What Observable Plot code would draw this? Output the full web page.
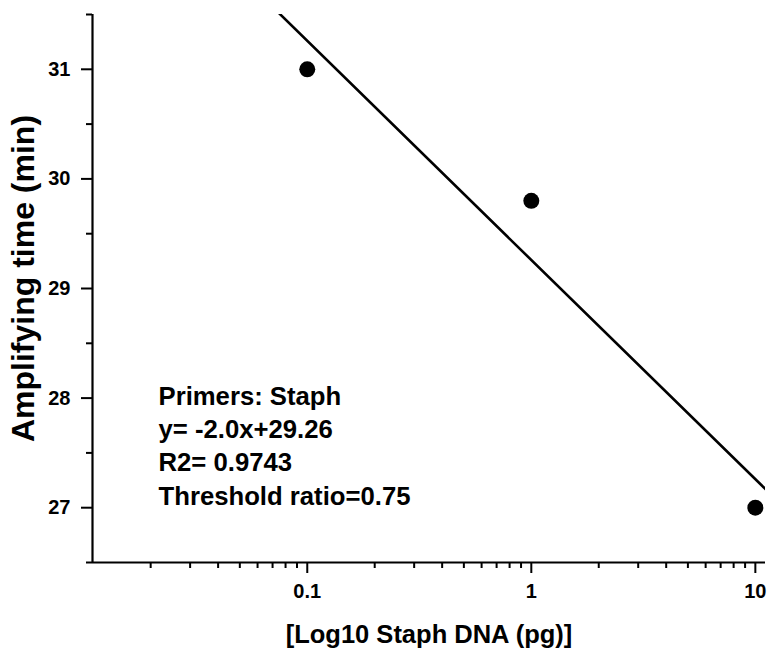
<!DOCTYPE html>
<html>
<head>
<meta charset="utf-8">
<script src="https://cdn.jsdelivr.net/npm/d3@7"></script>
<script src="https://cdn.jsdelivr.net/npm/@observablehq/plot@0.6"></script>
<style>
  html, body { margin: 0; padding: 0; background: #fff; }
  #chart svg { display: block; }
</style>
</head>
<body>
<div id="chart"></div>
<script>
// Data
const dnaAmounts = [0.1, 1, 10];           // pg
const ampTimes = [31.0, 29.8, 27.0];       // min
const fitSlope = -2.0;
const fitIntercept = 29.26;
const annotationLines = ["Primers: Staph", "y= -2.0x+29.26", "R2= 0.9743", "Threshold ratio=0.75"];

// Axes
const xDomain = [0.011, 11.1];
const yDomain = [26.5, 31.5];
const xMajorTicks = [0.1, 1, 10];
const xTickLabels = ["0.1", "1", "10"];
const xMinorTicks = [0.02, 0.03, 0.04, 0.05, 0.06, 0.07, 0.08, 0.09,
                     0.2, 0.3, 0.4, 0.5, 0.6, 0.7, 0.8, 0.9,
                     2, 3, 4, 5, 6, 7, 8, 9];
const yMajorTicks = [27, 28, 29, 30, 31];
const yTickLabels = ["27", "28", "29", "30", "31"];
const yMinorTicks = [26.5, 27.5, 28.5, 29.5, 30.5, 31.5];
const xTitle = "[Log10 Staph DNA (pg)]";
const yTitle = "Amplifying time (min)";

const points = dnaAmounts.map((x, i) => ({x, y: ampTimes[i]}));
const fitLine = xDomain.map(x => ({x, y: fitSlope * Math.log10(x) + fitIntercept}));
const xLabelData = xMajorTicks.map((v, i) => ({v, label: xTickLabels[i]}));
const yLabelData = yMajorTicks.map((v, i) => ({v, label: yTickLabels[i]}));

const font = "'Liberation Sans', Arial, sans-serif";

const chart = Plot.plot({
  width: 767,
  height: 650,
  marginLeft: 92,
  marginRight: 2,
  marginTop: 14,
  marginBottom: 88,
  style: {fontFamily: font, fontWeight: "bold", fontSize: "20px", color: "#000", background: "#fff"},
  x: {type: "log", domain: xDomain},
  y: {domain: yDomain},
  marks: [
    Plot.axisX({ticks: xMinorTicks, tickSize: 6, tickFormat: () => "", strokeWidth: 2, label: null}),
    Plot.axisX({ticks: xMajorTicks, tickSize: 11, tickFormat: () => "", strokeWidth: 2, label: null}),
    Plot.axisY({ticks: yMinorTicks, tickSize: 6, tickFormat: () => "", strokeWidth: 2, label: null}),
    Plot.axisY({ticks: yMajorTicks, tickSize: 11, tickFormat: () => "", strokeWidth: 2, label: null}),
    Plot.text(xLabelData, {
      x: "v", text: "label", frameAnchor: "bottom", textAnchor: "middle", lineAnchor: "top",
      dy: 21, fontSize: 20, fontWeight: "bold", fill: "#000"
    }),
    Plot.text(yLabelData, {
      y: "v", text: "label", frameAnchor: "left", textAnchor: "end", lineAnchor: "middle",
      dx: -22, fontSize: 20, fontWeight: "bold", fill: "#000"
    }),
    Plot.ruleY([yDomain[0]], {stroke: "#000", strokeWidth: 2.2}),
    Plot.ruleX([xDomain[0]], {stroke: "#000", strokeWidth: 2.2}),
    Plot.line(fitLine, {x: "x", y: "y", stroke: "#000", strokeWidth: 2.6, clip: true}),
    Plot.dot(points, {x: "x", y: "y", r: 8, fill: "#000", stroke: null}),
    Plot.text([annotationLines.join("\n")], {
      frameAnchor: "bottom-left", textAnchor: "start", lineAnchor: "bottom",
      dx: 66, dy: -58, fontSize: 25.7, fontWeight: "bold", lineHeight: 1.29, fill: "#000"
    }),
    Plot.text([xTitle], {
      frameAnchor: "bottom", textAnchor: "middle", lineAnchor: "bottom", dy: 80,
      fontSize: 25.5, fontWeight: "bold", fill: "#000"
    }),
    Plot.text([yTitle], {
      frameAnchor: "left", textAnchor: "middle", lineAnchor: "bottom", rotate: -90, dx: -59, dy: -10,
      fontSize: 32, fontWeight: "bold", fill: "#000"
    })
  ]
});
document.getElementById("chart").appendChild(chart);
</script>
</body>
</html>
